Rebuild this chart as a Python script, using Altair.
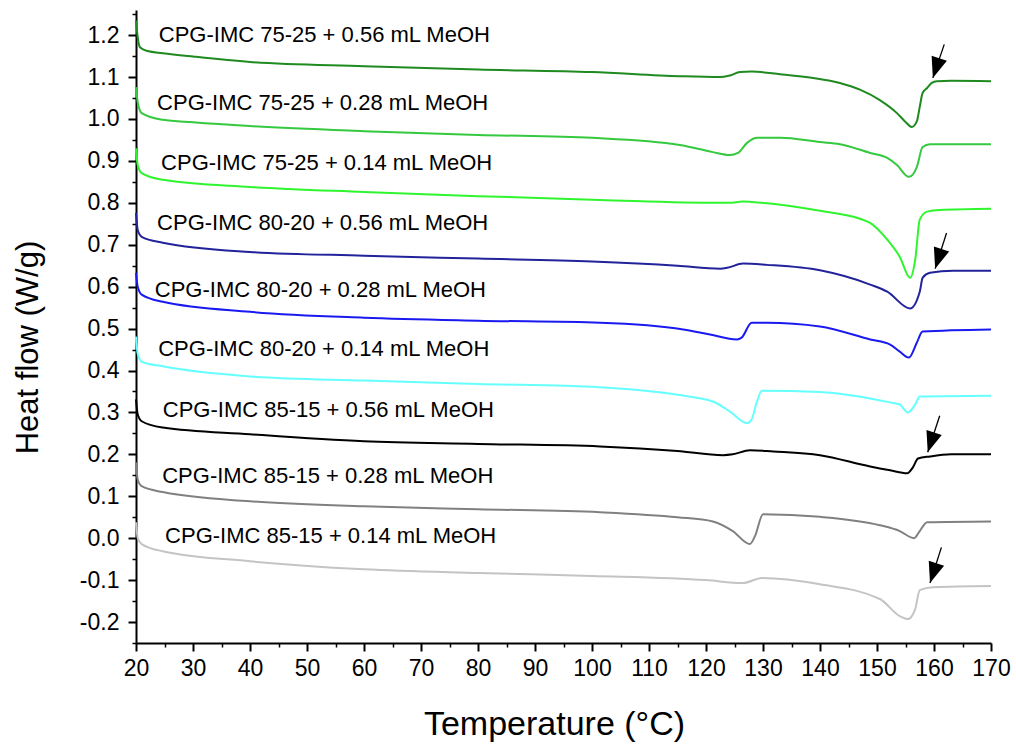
import altair as alt
import pandas as pd

series_names = [
    "CPG-IMC 75-25 + 0.56 mL MeOH",
    "CPG-IMC 75-25 + 0.28 mL MeOH",
    "CPG-IMC 75-25 + 0.14 mL MeOH",
    "CPG-IMC 80-20 + 0.56 mL MeOH",
    "CPG-IMC 80-20 + 0.28 mL MeOH",
    "CPG-IMC 80-20 + 0.14 mL MeOH",
    "CPG-IMC 85-15 + 0.56 mL MeOH",
    "CPG-IMC 85-15 + 0.28 mL MeOH",
    "CPG-IMC 85-15 + 0.14 mL MeOH",
]
series_colors = ["#1f8a1f", "#35c93f", "#2ef52e", "#22229a", "#1a1af0",
                 "#66ffff", "#000000", "#808080", "#c4c4c4"]

t1 = [20, 20.3, 20.7, 22, 24.7, 30, 40, 60, 80, 100, 115.4, 122.5, 124, 126, 128, 133,
      138.8, 143.5, 147, 150.5, 153.5, 155, 156.1, 157, 157.5, 158, 158.8, 159.6, 160.5, 163, 170]
w1 = [1.235, 1.195, 1.171, 1.162, 1.157, 1.149, 1.136, 1.126, 1.118, 1.112, 1.102, 1.100, 1.103,
      1.112, 1.113, 1.107, 1.098, 1.086, 1.07, 1.045, 1.014, 0.993, 0.981, 0.995, 1.029, 1.062,
      1.074, 1.086, 1.090, 1.091, 1.090]

t2 = [20, 20.3, 21, 24.7, 30, 40, 60, 80, 100, 115.4, 121.2, 124.2, 125.6, 127.2, 129, 133,
      140, 143.5, 148.8, 151.8, 153.5, 155.6, 157, 158, 159.3, 170]
w2 = [1.076, 1.04, 1.014, 0.998, 0.992, 0.983, 0.971, 0.962, 0.955, 0.938, 0.921, 0.914, 0.919,
      0.943, 0.955, 0.955, 0.945, 0.940, 0.919, 0.907, 0.89, 0.862, 0.886, 0.933, 0.940, 0.940]

t3 = [20, 20.3, 21, 24.7, 40, 60, 80, 101.4, 122.5, 124, 126.5, 128, 140, 147, 148.8, 151.8,
      154, 155.8, 156.7, 157.5, 158.8, 161, 170]
w3 = [0.93, 0.89, 0.871, 0.855, 0.838, 0.826, 0.816, 0.807, 0.80, 0.800, 0.803, 0.802, 0.781,
      0.762, 0.752, 0.712, 0.671, 0.621, 0.664, 0.76, 0.779, 0.783, 0.786]

t4 = [20, 20.3, 21, 24.7, 40, 60, 80, 100, 115, 122.5, 123.7, 126.5, 130.7, 140, 148.8, 151.8,
      155.8, 157.5, 158, 159.3, 163.3, 170]
w4 = [0.776, 0.735, 0.719, 0.705, 0.683, 0.674, 0.667, 0.660, 0.650, 0.643, 0.645, 0.655, 0.652,
      0.639, 0.605, 0.588, 0.548, 0.588, 0.621, 0.633, 0.638, 0.638]

t5 = [20, 20.3, 21, 24.7, 40, 60, 80, 101.4, 116, 120.7, 125.4, 126.3, 128, 130.7, 140, 148.8,
      152.3, 154, 155.6, 157, 158, 170]
w5 = [0.633, 0.60, 0.581, 0.564, 0.540, 0.526, 0.519, 0.514, 0.498, 0.486, 0.474, 0.479, 0.514,
      0.514, 0.505, 0.474, 0.462, 0.445, 0.431, 0.467, 0.493, 0.498]

t6 = [20, 20.3, 21, 24.7, 40, 60, 80, 101.4, 115, 121.2, 124.2, 127.2, 128, 128.9, 129.8, 140,
      152.3, 154, 155.4, 156.7, 157.5, 170]
w6 = [0.481, 0.44, 0.421, 0.41, 0.386, 0.376, 0.368, 0.36, 0.342, 0.326, 0.302, 0.274, 0.283,
      0.324, 0.352, 0.349, 0.324, 0.319, 0.30, 0.319, 0.338, 0.340]

t7 = [20, 20.3, 21, 24.7, 40, 60, 80, 101.4, 115, 123, 124.7, 127.7, 131.8, 140, 148.8, 152.3,
      155.3, 156.3, 157.2, 159.3, 163, 170]
w7 = [0.331, 0.295, 0.279, 0.264, 0.248, 0.231, 0.225, 0.219, 0.208, 0.198, 0.200, 0.210, 0.207,
      0.198, 0.171, 0.162, 0.155, 0.169, 0.19, 0.195, 0.20, 0.20]

t8 = [20, 20.3, 21, 24.7, 40, 60, 80, 101.4, 115, 121.2, 124.7, 127.7, 128.6, 130, 140, 150.5,
      154, 156.5, 157.5, 158.8, 170]
w8 = [0.181, 0.14, 0.124, 0.11, 0.088, 0.076, 0.069, 0.062, 0.05, 0.04, 0.017, -0.014, 0.005,
      0.057, 0.051, 0.031, 0.017, 0.0, 0.017, 0.038, 0.040]

t9 = [20, 20.3, 21, 24.7, 40, 60, 80, 100, 120, 126.5, 129.8, 140, 150.5, 154, 155.4, 156.7,
      157.5, 159.8, 170]
w9 = [0.038, 0.0, -0.014, -0.031, -0.055, -0.074, -0.083, -0.09, -0.1, -0.107, -0.095, -0.11,
      -0.145, -0.186, -0.193, -0.169, -0.124, -0.117, -0.114]

temps = [t1, t2, t3, t4, t5, t6, t7, t8, t9]
flows = [w1, w2, w3, w4, w5, w6, w7, w8, w9]

label_T = [24.0, 23.7, 24.4, 23.7, 23.3, 23.9, 24.7, 24.6, 25.1]
label_W = [1.200, 1.038, 0.895, 0.752, 0.593, 0.452, 0.307, 0.148, 0.005]

arrow_tip_T = [159.8, 160.2, 158.9, 159.3]
arrow_tip_W = [1.098, 0.643, 0.205, -0.107]
arrow_tail_T = [161.8, 162.2, 161.0, 161.3]
arrow_tail_W = [1.178, 0.728, 0.292, -0.022]

x_major = [20, 30, 40, 50, 60, 70, 80, 90, 100, 110, 120, 130, 140, 150, 160, 170]
x_minor = [25, 35, 45, 55, 65, 75, 85, 95, 105, 115, 125, 135, 145, 155, 165]
y_major = [-0.2, -0.1, 0.0, 0.1, 0.2, 0.3, 0.4, 0.5, 0.6, 0.7, 0.8, 0.9, 1.0, 1.1, 1.2]
y_minor = [-0.25, -0.15, -0.05, 0.05, 0.15, 0.25, 0.35, 0.45, 0.55, 0.65, 0.75, 0.85, 0.95,
           1.05, 1.15, 1.25]

rows = []
for name, ts, ws in zip(series_names, temps, flows):
    for t, w in zip(ts, ws):
        rows.append({"series": name, "T": t, "W": w})
df = pd.DataFrame(rows)
labels_df = pd.DataFrame({"text": series_names, "T": label_T, "W": label_W})
arrows_df = pd.DataFrame({"T": arrow_tail_T, "W": arrow_tail_W,
                          "T2": arrow_tip_T, "W2": arrow_tip_W})

FONT = "Liberation Sans"
xs = alt.Scale(domain=[20, 170], nice=False, zero=False)
ys = alt.Scale(domain=[-0.25, 1.26], nice=False, zero=False)

x_axis = alt.Axis(values=x_major, labelFontSize=23, labelFont=FONT, labelColor="black",
                  tickSize=8, tickWidth=2, tickColor="black", domainColor="black",
                  domainWidth=2, grid=False, labelPadding=6, labelFlush=False,
                  labelOverlap=False, format="d",
                  titleFont=FONT, titleFontSize=34, titleFontWeight="normal",
                  titleColor="black", titleX=418, titleY=91, titleBaseline="alphabetic",
                  titleAlign="center")
y_axis = alt.Axis(values=y_major, labelFontSize=23, labelFont=FONT, labelColor="black",
                  tickSize=8, tickWidth=2, tickColor="black", domainColor="black",
                  domainWidth=2, grid=False, labelPadding=9, labelFlush=False,
                  labelOverlap=False,
                  labelExpr="datum.value < -0.001 ? '-' + format(-datum.value, '.1f') : format(abs(datum.value), '.1f')",
                  titleFont=FONT, titleFontSize=31, titleFontWeight="normal",
                  titleColor="black", titleX=-99, titleY=337, titleAngle=270,
                  titleBaseline="alphabetic", titleAlign="center")
x_minor_axis = alt.Axis(values=x_minor, labels=False, domain=False, tickSize=4,
                        tickWidth=1.5, tickColor="black", grid=False, orient="bottom")
y_minor_axis = alt.Axis(values=y_minor, labels=False, domain=False, tickSize=4,
                        tickWidth=1.5, tickColor="black", grid=False, orient="left")

lines = alt.Chart(df).mark_line(strokeWidth=2, interpolate="monotone").encode(
    x=alt.X("T:Q", scale=xs, axis=x_axis, title="Temperature (°C)"),
    y=alt.Y("W:Q", scale=ys, axis=y_axis, title="Heat flow (W/g)"),
    color=alt.Color("series:N", scale=alt.Scale(domain=series_names, range=series_colors),
                    legend=None),
    detail="series:N",
)

arrow_lines = alt.Chart(arrows_df).mark_rule(color="black", strokeWidth=1.3).encode(
    x=alt.X("T:Q", scale=xs, axis=x_minor_axis, title=None),
    y=alt.Y("W:Q", scale=ys, axis=y_minor_axis, title=None),
    x2="T2:Q",
    y2="W2:Q",
)

arrow_heads = alt.Chart(arrows_df).mark_point(
    shape="M0,0L-0.68,-1.75L0.68,-1.75Z", filled=True, color="black", opacity=1,
    size=560, angle=18, strokeWidth=0,
).encode(
    x=alt.X("T2:Q", scale=xs, axis=None),
    y=alt.Y("W2:Q", scale=ys, axis=None),
)

texts = alt.Chart(labels_df).mark_text(align="left", baseline="middle", fontSize=22,
                                       font=FONT, color="black").encode(
    x=alt.X("T:Q", scale=xs, axis=None),
    y=alt.Y("W:Q", scale=ys, axis=None),
    text="text:N",
)

chart = alt.layer(lines, arrow_lines, arrow_heads, texts).resolve_axis(
    x="independent", y="independent"
).properties(
    width=855, height=633,
    padding={"left": 136, "top": 10, "right": 25, "bottom": 101},
    autosize=alt.AutoSizeParams(type="none"),
    background="white",
).configure_view(stroke=None)

chart.save("out.html", embed_options={"renderer": "svg", "actions": False})
